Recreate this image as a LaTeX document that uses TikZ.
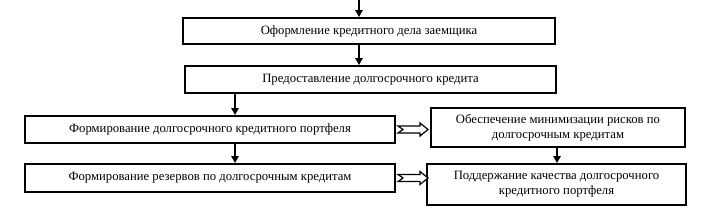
\documentclass[tikz,border=0pt]{standalone}
\usepackage{fontspec}
\setmainfont{Liberation Serif}
\usetikzlibrary{arrows.meta,positioning,calc}

\tikzset{
  blk/.style={draw,line width=2pt,fill=white,align=center,inner sep=1pt,
    font=\fontsize{12.7}{15}\selectfont},
  arr/.style={line width=1.4pt,-{Triangle[length=7pt,width=7.5pt]}},
  hollow/.style={draw,line width=1.2pt,fill=white,line join=miter}
}
% notched broad arrow from east side of #1
\newcommand\notcharrow[1]{%
  \draw[hollow] ($(#1)+(2,-3.5)$) -- ++(22,0) -- ++(0,-3) -- ++(8,6.5)
    -- ++(-8,6.5) -- ++(0,-3) -- ++(-22,0) -- ++(5,-3.5) -- cycle;}

\begin{document}
\begin{tikzpicture}[x=1pt,y=-1pt]
  \useasboundingbox (0,0) rectangle (708,210);
  % main chain
  \node[blk,minimum width=372pt,minimum height=26pt] (oform) at (369,31) {Оформление кредитного дела заемщика};
  \node[blk,minimum width=371pt,minimum height=27pt] (predost) at (370.5,79.5) {Предоставление долгосрочного кредита};
  \node[blk,minimum width=370pt,minimum height=27pt] (portf) at (210,129.5) {Формирование долгосрочного кредитного портфеля};
  \node[blk,minimum width=370pt,minimum height=28pt] (rezerv) at (210,178) {Формирование резервов по долгосрочным кредитам};
  % right column
  \node[blk,minimum width=254pt,minimum height=39pt] (minim) at (558,127.5) {Обеспечение минимизации рисков по\\долгосрочным кредитам};
  \node[blk,minimum width=259pt,minimum height=41pt] (kach) at (556.5,184.5) {Поддержание качества долгосрочного\\кредитного портфеля};
  % arrows
  \coordinate (start) at (359,0);
  \draw[arr] (start) -- (start |- oform.north);
  \draw[arr] (oform.south -| start) -- (start |- predost.north);
  \draw[arr] (predost.south -| 235,0) -- (235,0 |- portf.north);
  \draw[arr] (portf.south -| 235,0) -- (235,0 |- rezerv.north);
  \draw[arr] (minim.south -| 557,0) -- (557,0 |- kach.north);
  \notcharrow{portf.east}
  \notcharrow{rezerv.east}
\end{tikzpicture}
\end{document}
